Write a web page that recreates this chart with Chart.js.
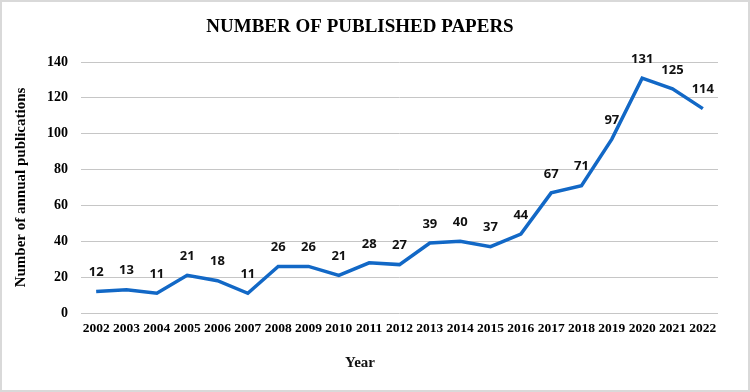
<!DOCTYPE html>
<html>
<head>
<meta charset="utf-8">
<script src="https://cdn.jsdelivr.net/npm/chart.js@4.4.0/dist/chart.umd.min.js"></script>
<style>
    html, body { margin: 0; padding: 0; background: #fff; }
    #wrap {
        position: absolute; left: 0; top: 0;
        width: 750px; height: 392px;
        box-sizing: border-box;
        border: 2px solid #d9d9d9;
        background: #fff;
    }
</style>
</head>
<body>
<div id="wrap"><canvas id="graficoPublicacoes"></canvas></div>
<script>
const anos = ['2002', '2003', '2004', '2005', '2006', '2007', '2008', '2009', '2010', '2011', '2012',
    '2013', '2014', '2015', '2016', '2017', '2018', '2019', '2020', '2021', '2022'];
const publicacoes = [12, 13, 11, 21, 18, 11, 26, 26, 21, 28, 27, 39, 40, 37, 44, 67, 71, 97, 131, 125, 114];
const yTicks = [0, 20, 40, 60, 80, 100, 120, 140];

const serif = '"Liberation Serif", "Times New Roman", serif';

// rótulos de dados acima de cada ponto, e o título do eixo X centrado no gráfico
const rotulos = {
    id: 'rotulos',
    afterDatasetsDraw(chart) {
        const ctx = chart.ctx;
        const meta = chart.getDatasetMeta(0);
        ctx.save();
        ctx.font = 'bold 13px "Open Sans", "Liberation Sans", sans-serif';
        ctx.fillStyle = '#111';
        ctx.textAlign = 'center';
        ctx.textBaseline = 'middle';
        meta.data.forEach(function (pt, i) {
            ctx.fillText(String(publicacoes[i]), pt.x, pt.y - 19);
        });
        ctx.font = 'bold 15px ' + serif;
        ctx.fillText('Year', (chart.width - 30) / 2, 361);
        ctx.restore();
    }
};

const ctx = document.getElementById('graficoPublicacoes');

new Chart(ctx, {
    type: 'line',
    data: {
        labels: anos,
        datasets: [{
            label: 'Publications',
            data: publicacoes,
            borderColor: '#1268C6',
            backgroundColor: '#1268C6',
            borderWidth: 3.5,
            pointRadius: 0,
            tension: 0,
            fill: false
        }]
    },
    options: {
        responsive: true,
        maintainAspectRatio: false,
        animation: false,
        layout: { padding: { left: 0, right: 30, top: 0, bottom: 0 } },
        plugins: {
            legend: { display: false },
            tooltip: { enabled: false },
            title: {
                display: true,
                text: 'NUMBER OF PUBLISHED PAPERS',
                color: '#000',
                font: { family: serif, size: 19, weight: 'bold', lineHeight: 1.2 },
                padding: { top: 13.6, bottom: 23.6 }
            }
        },
        scales: {
            x: {
                offset: true,
                grid: { display: false, drawTicks: false },
                border: { display: false },
                ticks: {
                    color: '#000',
                    autoSkip: false,
                    maxRotation: 0,
                    padding: 7,
                    font: { family: serif, size: 13.5, weight: 'bold' }
                },
                afterFit: function (scale) { scale.height = 77; }
            },
            y: {
                min: 0,
                max: 140,
                afterBuildTicks: function (scale) {
                    scale.ticks = yTicks.map(function (v) { return { value: v }; });
                },
                grid: { color: '#c6c6c6', lineWidth: 1, drawTicks: false },
                border: { display: false },
                ticks: {
                    color: '#000',
                    padding: 13,
                    font: { family: serif, size: 14, weight: 'bold' }
                },
                title: {
                    display: true,
                    text: 'Number of annual publications',
                    color: '#000',
                    font: { family: serif, size: 15, weight: 'bold', lineHeight: 1.2 },
                    padding: { top: 10, bottom: 0 }
                },
                afterFit: function (scale) { scale.width = 79; }
            }
        }
    },
    plugins: [rotulos]
});
</script>
</body>
</html>
